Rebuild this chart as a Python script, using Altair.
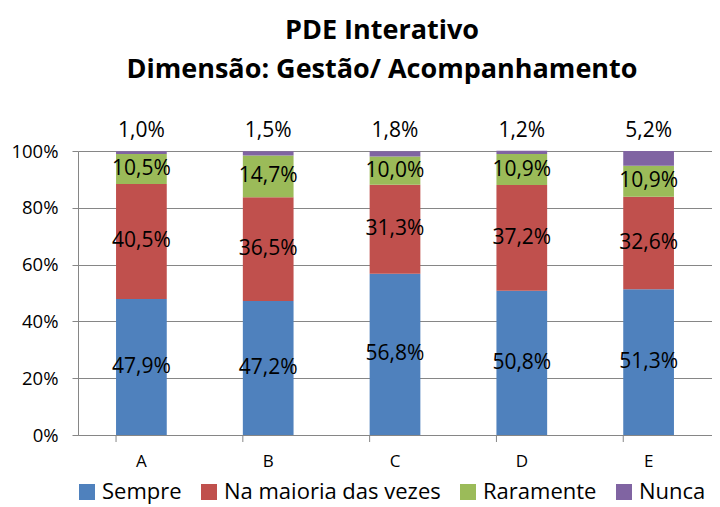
import altair as alt
import pandas as pd

categories = ["A", "B", "C", "D", "E"]
series = ["Sempre", "Na maioria das vezes", "Raramente", "Nunca"]
sempre = [47.9, 47.2, 56.8, 50.8, 51.3]
maioria = [40.5, 36.5, 31.3, 37.2, 32.6]
raramente = [10.5, 14.7, 10.0, 10.9, 10.9]
nunca = [1.0, 1.5, 1.8, 1.2, 5.2]
colors = ["#4F81BD", "#C0504D", "#9BBB59", "#8064A2"]

rows = []
for i, c in enumerate(categories):
    for k, (s, vals) in enumerate(zip(series, [sempre, maioria, raramente, nunca])):
        v = vals[i]
        rows.append({"cat": c, "serie": s, "ord": k, "v": v / 100.0,
                     "label": f"{v:.1f}".replace(".", ",") + "%"})
df = pd.DataFrame(rows)

FONT = "Open Sans"
W, H = 634, 284

base = alt.Chart(df).transform_stack(
    stack="v", groupby=["cat"], as_=["y0", "y1"], sort=[alt.SortField("ord")]
).transform_calculate(mid="(datum.y0 + datum.y1) / 2")

xenc = alt.X("cat:N", title=None, sort=categories,
             scale=alt.Scale(paddingInner=0.6, paddingOuter=0.3),
             axis=alt.Axis(ticks=False, labelFontSize=17, labelFont=FONT, labelColor="#000",
                           labelPadding=18, domainColor="#868686", labelAngle=0))

bars = base.mark_bar().encode(
    x=xenc,
    y=alt.Y("y0:Q", title=None, scale=alt.Scale(domain=[0, 1]),
            axis=alt.Axis(format=".0%", values=[0, 0.2, 0.4, 0.6, 0.8, 1.0],
                          labelFontSize=18.5, labelFont=FONT, labelColor="#000",
                          gridColor="#868686", grid=True, domainColor="#868686",
                          tickColor="#868686", tickSize=6, labelPadding=14)),
    y2="y1:Q",
    color=alt.Color("serie:N", sort=series,
                    scale=alt.Scale(domain=series, range=colors),
                    legend=alt.Legend(title=None, orient="none", direction="horizontal",
                                      legendX=-2, legendY=330, symbolType="square",
                                      symbolSize=256, symbolStrokeWidth=0,
                                      labelFontSize=22, labelFont=FONT, labelColor="#000",
                                      labelLimit=0, columnPadding=16, labelOffset=4)),
)

inner = base.transform_filter("datum.serie != 'Nunca'").mark_text(
    fontSize=21, font=FONT, color="#000"
).encode(x=alt.X("cat:N", sort=categories), y=alt.Y("mid:Q"), text="label:N")

top = base.transform_filter("datum.serie == 'Nunca'").mark_text(
    fontSize=21, font=FONT, color="#000", dy=-20
).encode(x=alt.X("cat:N", sort=categories), y=alt.datum(1), text="label:N")

tickdf = pd.DataFrame({"cat": categories})
ticks = alt.Chart(tickdf).mark_rule(color="#868686").encode(
    x=alt.X("cat:N", sort=categories, bandPosition=0),
    y=alt.value(H), y2=alt.value(H + 7),
)

chart = alt.layer(bars, inner, top, ticks).properties(
    width=W, height=H,
    title=alt.TitleParams(text=["PDE Interativo", "Dimensão: Gestão/ Acompanhamento"],
                          font=FONT, fontSize=27, fontWeight="bold", color="#000",
                          lineHeight=39, offset=36, dx=-13, anchor="middle"),
    padding={"left": 70, "top": 143, "right": 0, "bottom": 71},
    autosize=alt.AutoSizeParams(type="none"),
).configure_view(stroke=None)

chart.save("out.html", embed_options={"renderer": "svg", "actions": False})
